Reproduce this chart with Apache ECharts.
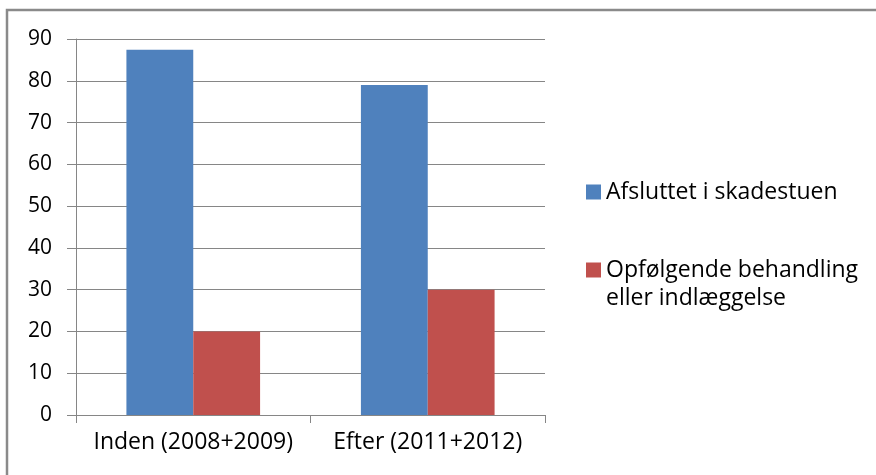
<!DOCTYPE html>
<html>
<head>
<meta charset="utf-8">
<style>
  html, body { margin: 0; padding: 0; background: #fff; }
  #chart { width: 876px; height: 475px; }
</style>
<script src="https://cdn.jsdelivr.net/npm/echarts@6/dist/echarts.min.js"></script>
</head>
<body>
<div id="chart"></div>
<script>
// data
const categories = ['Inden (2008+2009)', 'Efter (2011+2012)']
const afsluttet = [87.4, 79]
const opfoelgende = [20, 30]
const seriesNames = ['Afsluttet i skadestuen', 'Opfølgende behandling eller indlæggelse']

const font = '"Open Sans", Lato, sans-serif'
const grey = '#868686'

const chart = echarts.init(document.getElementById('chart'), null, { renderer: 'canvas' })

chart.setOption({
  backgroundColor: '#fff',
  animation: false,
  grid: { left: 76, right: 331, top: 39, bottom: 60 },
  xAxis: {
    type: 'category',
    data: categories,
    axisLine: { lineStyle: { color: grey, width: 1 } },
    axisTick: { show: true, length: 8, lineStyle: { color: grey } },
    axisLabel: { color: '#000', fontSize: 23, fontFamily: font, margin: 16, interval: 0 },
  },
  yAxis: {
    type: 'value',
    min: 0, max: 90, interval: 10,
    axisLine: { show: true, lineStyle: { color: grey, width: 1 } },
    axisTick: { show: true, length: 9, lineStyle: { color: grey } },
    axisLabel: { color: '#000', fontSize: 21, fontFamily: font, margin: 24 },
    splitLine: { lineStyle: { color: grey, width: 1 } },
  },
  legend: [
    {
      data: [seriesNames[0]],
      left: 581, top: 173,
      orient: 'vertical',
      itemWidth: 15, itemHeight: 15, itemGap: 6,
      icon: 'rect',
      textStyle: { fontSize: 23, fontFamily: font, color: '#000', lineHeight: 28 },
    },
    {
      data: [seriesNames[1]],
      left: 581, top: 223,
      orient: 'vertical',
      itemWidth: 15, itemHeight: 15, itemGap: 6,
      icon: 'rect',
      // blank first line keeps the icon level with the first text line
      formatter: () => ' \nOpfølgende behandling\neller indlæggelse',
      textStyle: { fontSize: 23, fontFamily: font, color: '#000', lineHeight: 28 },
    },
  ],
  graphic: [
    {
      type: 'polyline',
      shape: { points: [[7, 475], [7, 10], [876, 10]] },
      style: { stroke: '#8a8a8a', lineWidth: 2.5, fill: null },
      silent: true,
    },
  ],
  series: [
    {
      name: seriesNames[0], type: 'bar', data: afsluttet,
      barGap: 0, barCategoryGap: '43%',
      itemStyle: { color: '#4F81BD' },
    },
    {
      name: seriesNames[1], type: 'bar', data: opfoelgende,
      barGap: 0, barCategoryGap: '43%',
      itemStyle: { color: '#C0504D' },
    },
  ],
})
</script>
</body>
</html>
